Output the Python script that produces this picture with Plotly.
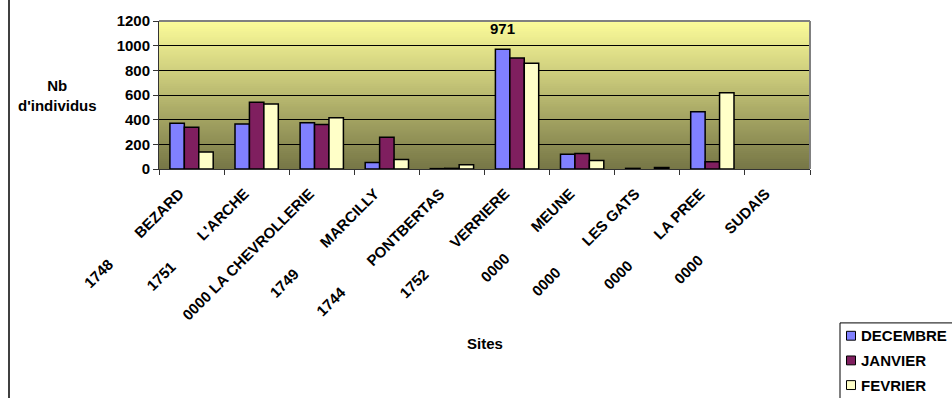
import plotly.graph_objects as go

# Sites (name + site code) and monthly counts
sites = ["BEZARD", "L'ARCHE", "LA CHEVROLLERIE", "MARCILLY", "PONTBERTAS",
         "VERRIERE", "MEUNE", "LES GATS", "LA PREE", "SUDAIS"]
codes = ["1748", "1751", "0000", "1749", "1744", "1752", "0000", "0000", "0000", "0000"]
gaps = [True, True, False, True, True, True, True, True, True, True]

decembre = [370, 365, 376, 53, 3, 971, 120, 5, 464, None]
janvier = [338, 541, 360, 258, 5, 901, 125, None, 58, None]
fevrier = [138, 528, 416, 77, 34, 858, 69, 12, 618, None]

months = ["DECEMBRE", "JANVIER", "FEVRIER"]
series = [decembre, janvier, fevrier]
colors = ["#8080FF", "#7F1F5F", "#FFFFC8"]

y_ticks = [0, 200, 400, 600, 800, 1000, 1200]

NB = "\u00a0"
tick_text = [
    (c + NB * 9 + s) if g else (c + " " + s)
    for c, s, g in zip(codes, sites, gaps)
]

FONT = "Liberation Sans"
bold = dict(family=FONT, size=15, color="black", weight="bold")

# plot-area geometry in pixels (used to place paper-referenced items)
L, R, T, B = 159, 142, 19, 229
W, H = 952, 398
PW, PH = W - L - R, H - T - B


def px_x(p):
    return (p - L) / PW


def px_y(p):
    return (H - B - p) / PH


fig = go.Figure()
for name, vals, col in zip(months, series, colors):
    fig.add_trace(go.Bar(
        x=sites, y=vals, name=name, showlegend=False,
        marker=dict(color=col, line=dict(color="black", width=1.5)),
    ))

# gradient plot background built from overlapping horizontal strips
N = 75
top = (252, 252, 154)
bot = (118, 118, 70)
shapes = []
for k in range(N):
    t = (k + 0.5) / N
    c = tuple(round(bot[j] + (top[j] - bot[j]) * t) for j in range(3))
    shapes.append(dict(
        type="rect", xref="x domain", yref="y domain",
        x0=0, x1=1, y0=k / N, y1=min(1.0, (k + 2) / N),
        fillcolor="rgb(%d,%d,%d)" % c, line=dict(width=0), layer="below",
    ))
# grey frame on top and right of the plot area
shapes.append(dict(type="line", xref="x domain", yref="y domain",
                   x0=0, x1=1, y0=1, y1=1, line=dict(color="#808080", width=2)))
shapes.append(dict(type="line", xref="x domain", yref="y domain",
                   x0=1, x1=1, y0=0, y1=1, line=dict(color="#808080", width=2)))
# chart area border on the far left
shapes.append(dict(type="line", xref="paper", yref="paper",
                   x0=px_x(9), x1=px_x(9), y0=px_y(410), y1=px_y(-10),
                   line=dict(color="black", width=1.5)))

annotations = []

# legend box with one swatch and label per month
shapes.append(dict(type="rect", xref="paper", yref="paper",
                   x0=px_x(840), x1=px_x(970), y0=px_y(420), y1=px_y(325),
                   line=dict(color="black", width=1), fillcolor="white"))
for i, (name, col) in enumerate(zip(months, colors)):
    cy = 338 + 25 * i
    shapes.append(dict(type="rect", xref="paper", yref="paper",
                       x0=px_x(846.5), x1=px_x(855.5),
                       y0=px_y(cy + 4.5), y1=px_y(cy - 4.5),
                       line=dict(color="black", width=1), fillcolor=col))
    annotations.append(dict(text=name, xref="paper", yref="paper",
                            x=px_x(859), y=px_y(cy), showarrow=False,
                            font=bold, xanchor="left", yanchor="middle"))

v_idx = sites.index("VERRIERE")
annotations += [
    dict(text="Nb<br>d'individus", xref="paper", yref="paper",
         x=px_x(58), y=0.5, showarrow=False, font=bold,
         xanchor="center", yanchor="middle", align="center"),
    dict(text="Sites", xref="paper", yref="paper", x=0.5,
         y=px_y(346), showarrow=False, font=bold,
         xanchor="center", yanchor="middle"),
    dict(text=str(decembre[v_idx]), x=sites[v_idx], y=decembre[v_idx],
         xref="x", yref="y", xshift=-14.4, yshift=10, showarrow=False,
         font=bold, xanchor="center", yanchor="bottom"),
]

fig.update_layout(
    width=W, height=H,
    margin=dict(l=L, r=R, t=T, b=B),
    paper_bgcolor="white", plot_bgcolor="rgba(0,0,0,0)",
    barmode="group", bargap=0.335, bargroupgap=0,
    shapes=shapes, annotations=annotations,
    font=bold,
    showlegend=False,
    xaxis=dict(
        type="category", tickmode="array", tickvals=sites, ticktext=tick_text,
        tickangle=-45, tickfont=bold, showline=True, linecolor="#333333",
        linewidth=1, ticks="outside", tickson="boundaries", ticklen=5,
        tickcolor="#333333", showgrid=False, fixedrange=True,
        ticklabelshift=-12, ticklabelstandoff=9,
    ),
    yaxis=dict(
        range=[0, 1200], tickmode="array", tickvals=y_ticks,
        tickfont=bold, showline=True, linecolor="#333333", linewidth=1,
        ticks="outside", ticklen=5, tickcolor="#333333",
        showgrid=True, gridcolor="black", gridwidth=1, zeroline=False,
    ),
)

fig.write_html("out.html")
